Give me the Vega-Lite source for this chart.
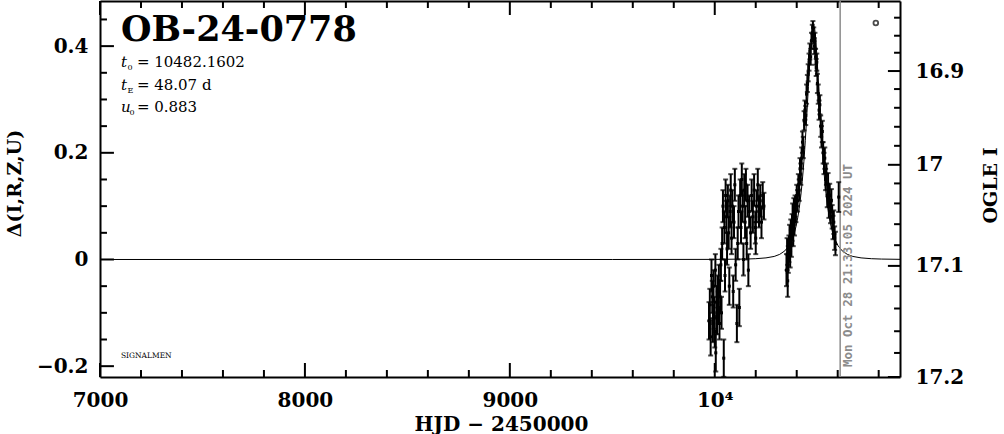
{
  "$schema": "https://vega.github.io/schema/vega-lite/v6.json",
  "width": 800,
  "height": 376,
  "autosize": "none",
  "padding": {"left": 100, "top": 1, "right": 104, "bottom": 57},
  "background": "white",
  "config": {"view": {"stroke": null}, "font": "DejaVu Serif"},
  "datasets": {
    "obs": [
      {"t":9972,"d":-0.115,"lo":-0.15,"hi":-0.08},{"t":9976,"d":-0.085,"lo":-0.115,"hi":-0.055},{"t":9980,"d":-0.145,"lo":-0.18,"hi":-0.11},
      {"t":9984,"d":-0.03,"lo":-0.06,"hi":0.0},{"t":9988,"d":-0.07,"lo":-0.10,"hi":-0.04},{"t":9991,"d":-0.12,"lo":-0.155,"hi":-0.085},
      {"t":9994,"d":-0.05,"lo":-0.08,"hi":-0.02},{"t":9997,"d":-0.10,"lo":-0.13,"hi":-0.07},{"t":10000,"d":-0.135,"lo":-0.165,"hi":-0.105},
      {"t":10003,"d":-0.02,"lo":-0.05,"hi":0.01},{"t":10005,"d":-0.175,"lo":-0.21,"hi":-0.14},{"t":10008,"d":-0.08,"lo":-0.11,"hi":-0.05},
      {"t":10011,"d":-0.11,"lo":-0.14,"hi":-0.08},{"t":10014,"d":-0.06,"lo":-0.09,"hi":-0.03},{"t":10017,"d":-0.09,"lo":-0.12,"hi":-0.06},
      {"t":10020,"d":-0.04,"lo":-0.07,"hi":-0.01},{"t":10023,"d":-0.12,"lo":-0.15,"hi":-0.09},{"t":10026,"d":-0.07,"lo":-0.10,"hi":-0.04},
      {"t":10030,"d":-0.01,"lo":-0.04,"hi":0.02},{"t":10033,"d":-0.10,"lo":-0.13,"hi":-0.07},{"t":10036,"d":0.03,"lo":0.0,"hi":0.06},
      {"t":10040,"d":0.10,"lo":0.07,"hi":0.13},{"t":10044,"d":-0.185,"lo":-0.22,"hi":-0.15},{"t":10047,"d":0.06,"lo":0.03,"hi":0.09},
      {"t":10050,"d":-0.03,"lo":-0.06,"hi":0.0},{"t":10053,"d":0.12,"lo":0.09,"hi":0.15},{"t":10057,"d":0.08,"lo":0.05,"hi":0.11},
      {"t":10060,"d":0.02,"lo":-0.01,"hi":0.05},{"t":10064,"d":0.11,"lo":0.08,"hi":0.14},{"t":10068,"d":0.05,"lo":0.02,"hi":0.08},
      {"t":10071,"d":-0.05,"lo":-0.085,"hi":-0.015},{"t":10075,"d":0.09,"lo":0.06,"hi":0.12},{"t":10078,"d":0.13,"lo":0.10,"hi":0.16},
      {"t":10082,"d":0.04,"lo":0.01,"hi":0.07},{"t":10086,"d":0.10,"lo":0.07,"hi":0.13},{"t":10090,"d":-0.06,"lo":-0.09,"hi":-0.03},
      {"t":10094,"d":0.07,"lo":0.04,"hi":0.10},{"t":10098,"d":0.14,"lo":0.11,"hi":0.17},{"t":10102,"d":-0.01,"lo":-0.04,"hi":0.02},
      {"t":10108,"d":-0.12,"lo":-0.155,"hi":-0.085},{"t":10112,"d":0.03,"lo":0.0,"hi":0.06},{"t":10116,"d":0.09,"lo":0.06,"hi":0.12},
      {"t":10120,"d":-0.09,"lo":-0.125,"hi":-0.055},{"t":10124,"d":0.12,"lo":0.09,"hi":0.15},{"t":10128,"d":0.06,"lo":0.03,"hi":0.09},
      {"t":10132,"d":0.15,"lo":0.12,"hi":0.18},{"t":10136,"d":0.10,"lo":0.07,"hi":0.13},{"t":10140,"d":0.00,"lo":-0.03,"hi":0.03},
      {"t":10144,"d":0.13,"lo":0.10,"hi":0.16},{"t":10148,"d":0.07,"lo":0.04,"hi":0.10},{"t":10152,"d":0.14,"lo":0.11,"hi":0.17},
      {"t":10156,"d":0.03,"lo":0.0,"hi":0.06},{"t":10160,"d":0.11,"lo":0.08,"hi":0.14},{"t":10164,"d":-0.02,"lo":-0.05,"hi":0.01},
      {"t":10168,"d":0.09,"lo":0.06,"hi":0.12},{"t":10175,"d":0.05,"lo":0.02,"hi":0.08},{"t":10180,"d":0.12,"lo":0.09,"hi":0.15},
      {"t":10186,"d":0.08,"lo":0.05,"hi":0.11},{"t":10192,"d":0.13,"lo":0.10,"hi":0.16},{"t":10198,"d":0.06,"lo":0.03,"hi":0.09},
      {"t":10200,"d":0.04,"lo":0.01,"hi":0.07},{"t":10204,"d":0.10,"lo":0.07,"hi":0.13},{"t":10210,"d":0.14,"lo":0.11,"hi":0.17},
      {"t":10216,"d":0.09,"lo":0.06,"hi":0.12},{"t":10222,"d":0.11,"lo":0.08,"hi":0.14},{"t":10228,"d":0.07,"lo":0.04,"hi":0.10},
      {"t":10234,"d":0.12,"lo":0.095,"hi":0.145},{"t":10240,"d":0.10,"lo":0.075,"hi":0.125},
      {"t":10350,"d":-0.02,"lo":-0.05,"hi":0.01},{"t":10353,"d":0.01,"lo":-0.02,"hi":0.04},{"t":10356,"d":-0.04,"lo":-0.07,"hi":-0.01},
      {"t":10359,"d":0.00,"lo":-0.025,"hi":0.025},{"t":10362,"d":0.02,"lo":-0.005,"hi":0.045},{"t":10365,"d":0.04,"lo":0.015,"hi":0.065},
      {"t":10368,"d":0.01,"lo":-0.015,"hi":0.035},{"t":10371,"d":0.05,"lo":0.025,"hi":0.075},{"t":10374,"d":0.03,"lo":0.005,"hi":0.055},
      {"t":10377,"d":0.06,"lo":0.035,"hi":0.085},{"t":10380,"d":0.08,"lo":0.055,"hi":0.105},{"t":10383,"d":0.05,"lo":0.025,"hi":0.075},
      {"t":10386,"d":0.09,"lo":0.065,"hi":0.115},{"t":10389,"d":0.07,"lo":0.045,"hi":0.095},{"t":10392,"d":0.10,"lo":0.08,"hi":0.12},
      {"t":10396,"d":0.09,"lo":0.07,"hi":0.11},{"t":10400,"d":0.12,"lo":0.10,"hi":0.14},{"t":10404,"d":0.11,"lo":0.09,"hi":0.13},
      {"t":10408,"d":0.14,"lo":0.12,"hi":0.16},{"t":10412,"d":0.13,"lo":0.11,"hi":0.15},{"t":10416,"d":0.17,"lo":0.15,"hi":0.19},
      {"t":10420,"d":0.16,"lo":0.14,"hi":0.18},{"t":10424,"d":0.19,"lo":0.17,"hi":0.21},{"t":10428,"d":0.22,"lo":0.20,"hi":0.24},
      {"t":10432,"d":0.21,"lo":0.19,"hi":0.23},{"t":10436,"d":0.26,"lo":0.242,"hi":0.278},{"t":10440,"d":0.28,"lo":0.262,"hi":0.298},
      {"t":10444,"d":0.27,"lo":0.252,"hi":0.288},{"t":10448,"d":0.31,"lo":0.292,"hi":0.328},{"t":10452,"d":0.33,"lo":0.314,"hi":0.346},
      {"t":10456,"d":0.35,"lo":0.334,"hi":0.366},{"t":10460,"d":0.37,"lo":0.354,"hi":0.386},{"t":10464,"d":0.39,"lo":0.375,"hi":0.405},
      {"t":10468,"d":0.38,"lo":0.365,"hi":0.395},{"t":10472,"d":0.41,"lo":0.395,"hi":0.425},{"t":10476,"d":0.425,"lo":0.41,"hi":0.44},
      {"t":10479,"d":0.435,"lo":0.423,"hi":0.447},{"t":10483,"d":0.42,"lo":0.405,"hi":0.435},{"t":10486,"d":0.40,"lo":0.385,"hi":0.415},
      {"t":10489,"d":0.41,"lo":0.395,"hi":0.425},{"t":10492,"d":0.38,"lo":0.365,"hi":0.395},{"t":10495,"d":0.36,"lo":0.344,"hi":0.376},
      {"t":10498,"d":0.37,"lo":0.354,"hi":0.386},{"t":10501,"d":0.33,"lo":0.312,"hi":0.348},{"t":10505,"d":0.31,"lo":0.292,"hi":0.328},
      {"t":10509,"d":0.28,"lo":0.262,"hi":0.298},{"t":10513,"d":0.29,"lo":0.272,"hi":0.308},{"t":10517,"d":0.25,"lo":0.23,"hi":0.27},
      {"t":10521,"d":0.23,"lo":0.21,"hi":0.25},{"t":10525,"d":0.24,"lo":0.22,"hi":0.26},{"t":10529,"d":0.20,"lo":0.18,"hi":0.22},
      {"t":10533,"d":0.18,"lo":0.16,"hi":0.20},{"t":10537,"d":0.19,"lo":0.17,"hi":0.21},{"t":10541,"d":0.15,"lo":0.13,"hi":0.17},
      {"t":10545,"d":0.16,"lo":0.14,"hi":0.18},{"t":10549,"d":0.12,"lo":0.098,"hi":0.142},{"t":10553,"d":0.14,"lo":0.118,"hi":0.162},
      {"t":10557,"d":0.10,"lo":0.078,"hi":0.122},{"t":10561,"d":0.12,"lo":0.098,"hi":0.142},{"t":10565,"d":0.09,"lo":0.068,"hi":0.112},
      {"t":10569,"d":0.11,"lo":0.088,"hi":0.132},{"t":10573,"d":0.08,"lo":0.058,"hi":0.102},{"t":10577,"d":0.06,"lo":0.038,"hi":0.082},
      {"t":10581,"d":0.07,"lo":0.048,"hi":0.092},{"t":10585,"d":0.04,"lo":0.018,"hi":0.062},{"t":10589,"d":0.03,"lo":0.008,"hi":0.052},
      {"t":10605,"d":0.117,"lo":0.089,"hi":0.145}
    ],
    "model": [
      {"t":7000,"m":0},{"t":9500,"m":0},{"t":10000,"m":0.0002},{"t":10150,"m":0.0008},{"t":10200,"m":0.0015},
      {"t":10250,"m":0.003},{"t":10290,"m":0.0057},{"t":10317,"m":0.0096},{"t":10342,"m":0.0162},{"t":10362,"m":0.0256},
      {"t":10382,"m":0.0421},{"t":10390,"m":0.052},{"t":10397,"m":0.0628},{"t":10405,"m":0.0783},{"t":10412,"m":0.0954},
      {"t":10420,"m":0.1199},{"t":10427,"m":0.1465},{"t":10435,"m":0.1839},{"t":10442,"m":0.2234},{"t":10450,"m":0.2752},
      {"t":10457,"m":0.3245},{"t":10464,"m":0.3725},{"t":10470,"m":0.4076},{"t":10476,"m":0.4314},{"t":10482,"m":0.4399},
      {"t":10488,"m":0.4314},{"t":10494,"m":0.4076},{"t":10500,"m":0.3725},{"t":10507,"m":0.3245},{"t":10514,"m":0.2752},
      {"t":10522,"m":0.2234},{"t":10529,"m":0.1839},{"t":10537,"m":0.1465},{"t":10544,"m":0.1199},{"t":10552,"m":0.0954},
      {"t":10559,"m":0.0783},{"t":10567,"m":0.0628},{"t":10574,"m":0.052},{"t":10582,"m":0.0421},{"t":10602,"m":0.0256},
      {"t":10622,"m":0.0162},{"t":10647,"m":0.0096},{"t":10674,"m":0.0057},{"t":10714,"m":0.003},{"t":10764,"m":0.0015},
      {"t":10814,"m":0.0008},{"t":10904,"m":0.0003}
    ],
    "xticks": [
      {"v":7000,"kind":"major"},{"v":7200,"kind":"minor"},{"v":7400,"kind":"minor"},{"v":7600,"kind":"minor"},{"v":7800,"kind":"minor"},
      {"v":8000,"kind":"major"},{"v":8200,"kind":"minor"},{"v":8400,"kind":"minor"},{"v":8600,"kind":"minor"},{"v":8800,"kind":"minor"},
      {"v":9000,"kind":"major"},{"v":9200,"kind":"minor"},{"v":9400,"kind":"minor"},{"v":9600,"kind":"minor"},{"v":9800,"kind":"minor"},
      {"v":10000,"kind":"major"},{"v":10200,"kind":"minor"},{"v":10400,"kind":"minor"},{"v":10600,"kind":"minor"},{"v":10800,"kind":"minor"}
    ],
    "lticks": [
      {"v":-0.2,"kind":"major"},{"v":-0.15,"kind":"minor"},{"v":-0.1,"kind":"minor"},{"v":-0.05,"kind":"minor"},
      {"v":0,"kind":"major"},{"v":0.05,"kind":"minor"},{"v":0.1,"kind":"minor"},{"v":0.15,"kind":"minor"},
      {"v":0.2,"kind":"major"},{"v":0.25,"kind":"minor"},{"v":0.3,"kind":"minor"},{"v":0.35,"kind":"minor"},
      {"v":0.4,"kind":"major"},{"v":0.45,"kind":"minor"}
    ],
    "rticks": [
      {"v":0.4533,"kind":"minor"},{"v":0.4195,"kind":"minor"},{"v":0.3876,"kind":"minor"},{"v":0.3533,"kind":"major"},
      {"v":0.3195,"kind":"minor"},{"v":0.2844,"kind":"minor"},{"v":0.2488,"kind":"minor"},{"v":0.2131,"kind":"minor"},
      {"v":0.1775,"kind":"major"},{"v":0.1426,"kind":"minor"},{"v":0.1051,"kind":"minor"},{"v":0.0662,"kind":"minor"},
      {"v":0.0268,"kind":"minor"},{"v":-0.012,"kind":"major"},{"v":-0.0501,"kind":"minor"},{"v":-0.0919,"kind":"minor"},
      {"v":-0.1345,"kind":"minor"},{"v":-0.1752,"kind":"minor"},{"v":-0.2203,"kind":"major"}
    ]
  },
  "layer": [
    {
      "data": {"name": "model"},
      "mark": {"type": "line", "color": "black", "strokeWidth": 1},
      "encoding": {
        "x": {"field": "t", "type": "quantitative", "scale": {"domain": [7000, 10904], "nice": false, "zero": false},
          "axis": {"orient": "bottom", "values": [7000,8000,9000,10000],
            "ticks": false, "domainColor": "black", "domainWidth": 2, "grid": false,
            "labelExpr": "datum.value === 10000 ? '10⁴' : format(datum.value, 'd')",
            "labelFont": "DejaVu Serif", "labelFontWeight": "bold", "labelFontSize": 20, "labelColor": "black",
            "labelPadding": 13, "labelFlush": false, "labelOverlap": false,
            "title": "HJD − 2450000", "titleFont": "DejaVu Serif", "titleFontWeight": "bold", "titleFontSize": 20, "titleColor": "black",
            "titleX": 401, "titleY": 53, "titleAlign": "center", "titleBaseline": "alphabetic"}},
        "y": {"field": "m", "type": "quantitative", "scale": {"domain": [-0.2203, 0.4846], "nice": false, "zero": false},
          "axis": {"orient": "left", "values": [-0.2, 0, 0.2, 0.4],
            "ticks": false, "domainColor": "black", "domainWidth": 2, "grid": false,
            "labelExpr": "abs(datum.value-0.4)<1e-6 ? '0.4' : abs(datum.value-0.2)<1e-6 ? '0.2' : abs(datum.value)<1e-6 ? '0' : '−0.2'",
            "labelFont": "DejaVu Serif", "labelFontWeight": "bold", "labelFontSize": 20, "labelColor": "black",
            "labelPadding": 12, "labelFlush": false, "labelOverlap": false,
            "title": "Δ(I,R,Z,U)", "titleFont": "DejaVu Serif", "titleFontWeight": "bold", "titleFontSize": 19, "titleColor": "black",
            "titleX": -86, "titleY": 182, "titleAngle": 270, "titleAlign": "center", "titleBaseline": "middle"}}
      }
    },
    {
      "data": {"values": [{"t": 10786, "y": 0.4433}]},
      "mark": {"type": "point", "shape": "circle", "filled": false, "color": "black", "size": 22, "strokeWidth": 1.8},
      "encoding": {
        "x": {"field": "t", "type": "quantitative", "scale": {"domain": [7000, 10904], "nice": false, "zero": false},
          "axis": {"orient": "top", "values": [7000], "ticks": false, "labels": false, "domainColor": "black", "domainWidth": 2, "grid": false, "title": null}},
        "y": {"field": "y", "type": "quantitative", "scale": {"domain": [-0.2203, 0.4846], "nice": false, "zero": false},
          "axis": {"orient": "right", "values": [0.3533, 0.1775, -0.012, -0.2203],
            "ticks": false, "domainColor": "black", "domainWidth": 2, "grid": false,
            "labelExpr": "abs(datum.value-0.3533)<1e-4 ? '16.9' : abs(datum.value-0.1775)<1e-4 ? '17' : abs(datum.value+0.012)<1e-4 ? '17.1' : '17.2'",
            "labelFont": "DejaVu Serif", "labelFontWeight": "bold", "labelFontSize": 20, "labelColor": "black",
            "labelPadding": 15, "labelFlush": false, "labelOverlap": false,
            "title": "OGLE I", "titleFont": "DejaVu Serif", "titleFontWeight": "bold", "titleFontSize": 19, "titleColor": "black",
            "titleX": 90, "titleY": 184, "titleAngle": 270, "titleAlign": "center", "titleBaseline": "middle"}}
      }
    },
    {
      "data": {"values": [{"t": 10612}]},
      "mark": {"type": "rule", "color": "#8c8c8c", "strokeWidth": 1.5},
      "encoding": {
        "x": {"field": "t", "type": "quantitative", "axis": null, "scale": {"domain": [7000, 10904], "nice": false, "zero": false}}
      }
    },
    {
      "data": {"name": "obs"},
      "mark": {"type": "rule", "color": "black", "strokeWidth": 2},
      "encoding": {
        "x": {"field": "t", "type": "quantitative", "axis": null, "scale": {"domain": [7000, 10904], "nice": false, "zero": false}},
        "y": {"field": "lo", "type": "quantitative", "axis": null, "scale": {"domain": [-0.2203, 0.4846], "nice": false, "zero": false}},
        "y2": {"field": "hi"}
      }
    },
    {
      "data": {"name": "obs"},
      "mark": {"type": "tick", "orient": "horizontal", "color": "black", "thickness": 2, "size": 5},
      "encoding": {
        "x": {"field": "t", "type": "quantitative", "axis": null, "scale": {"domain": [7000, 10904], "nice": false, "zero": false}},
        "y": {"field": "lo", "type": "quantitative", "axis": null, "scale": {"domain": [-0.2203, 0.4846], "nice": false, "zero": false}}
      }
    },
    {
      "data": {"name": "obs"},
      "mark": {"type": "tick", "orient": "horizontal", "color": "black", "thickness": 2, "size": 5},
      "encoding": {
        "x": {"field": "t", "type": "quantitative", "axis": null, "scale": {"domain": [7000, 10904], "nice": false, "zero": false}},
        "y": {"field": "hi", "type": "quantitative", "axis": null, "scale": {"domain": [-0.2203, 0.4846], "nice": false, "zero": false}}
      }
    },
    {
      "data": {"name": "obs"},
      "mark": {"type": "point", "shape": "square", "filled": true, "color": "black", "size": 9, "opacity": 1},
      "encoding": {
        "x": {"field": "t", "type": "quantitative", "axis": null, "scale": {"domain": [7000, 10904], "nice": false, "zero": false}},
        "y": {"field": "d", "type": "quantitative", "axis": null, "scale": {"domain": [-0.2203, 0.4846], "nice": false, "zero": false}}
      }
    },
    {
      "data": {"values": [{"t": 10649, "y": -0.2017, "label": "Mon Oct 28 21:33:05 2024 UT"}]},
      "mark": {"type": "text", "font": "DejaVu Sans Mono", "fontWeight": "bold", "fontSize": 12.5, "color": "#8c8c8c", "angle": 270, "align": "left", "baseline": "middle"},
      "encoding": {
        "x": {"field": "t", "type": "quantitative", "axis": null, "scale": {"domain": [7000, 10904], "nice": false, "zero": false}},
        "y": {"field": "y", "type": "quantitative", "axis": null, "scale": {"domain": [-0.2203, 0.4846], "nice": false, "zero": false}},
        "text": {"field": "label"}
      }
    },
    {
      "data": {"values": [{"t": 7102, "y": 0.4096, "label": "OB-24-0778"}]},
      "mark": {"type": "text", "font": "DejaVu Serif", "fontWeight": "bold", "fontSize": 35, "color": "black", "align": "left", "baseline": "alphabetic"},
      "encoding": {
        "x": {"field": "t", "type": "quantitative", "axis": null, "scale": {"domain": [7000, 10904], "nice": false, "zero": false}},
        "y": {"field": "y", "type": "quantitative", "axis": null, "scale": {"domain": [-0.2203, 0.4846], "nice": false, "zero": false}},
        "text": {"field": "label"}
      }
    },
    {
      "data": {"values": [{"t": 7102, "y": 0.3608, "label": "t"}, {"t": 7102, "y": 0.3176, "label": "t"}, {"t": 7102, "y": 0.2764, "label": "u"}]},
      "mark": {"type": "text", "font": "DejaVu Serif", "fontStyle": "italic", "fontSize": 15, "color": "black", "align": "left", "baseline": "alphabetic"},
      "encoding": {
        "x": {"field": "t", "type": "quantitative", "axis": null, "scale": {"domain": [7000, 10904], "nice": false, "zero": false}},
        "y": {"field": "y", "type": "quantitative", "axis": null, "scale": {"domain": [-0.2203, 0.4846], "nice": false, "zero": false}},
        "text": {"field": "label"}
      }
    },
    {
      "data": {"values": [{"t": 7134, "y": 0.3552, "label": "0"}, {"t": 7134, "y": 0.312, "label": "E"}, {"t": 7144, "y": 0.2707, "label": "0"}]},
      "mark": {"type": "text", "font": "DejaVu Serif", "fontSize": 8, "color": "black", "align": "left", "baseline": "alphabetic"},
      "encoding": {
        "x": {"field": "t", "type": "quantitative", "axis": null, "scale": {"domain": [7000, 10904], "nice": false, "zero": false}},
        "y": {"field": "y", "type": "quantitative", "axis": null, "scale": {"domain": [-0.2203, 0.4846], "nice": false, "zero": false}},
        "text": {"field": "label"}
      }
    },
    {
      "data": {"values": [{"t": 7180, "y": 0.3608, "label": "=  10482.1602"}, {"t": 7180, "y": 0.3176, "label": "=  48.07  d"}, {"t": 7180, "y": 0.2764, "label": "=  0.883"}]},
      "mark": {"type": "text", "font": "DejaVu Serif", "fontSize": 15, "color": "black", "align": "left", "baseline": "alphabetic"},
      "encoding": {
        "x": {"field": "t", "type": "quantitative", "axis": null, "scale": {"domain": [7000, 10904], "nice": false, "zero": false}},
        "y": {"field": "y", "type": "quantitative", "axis": null, "scale": {"domain": [-0.2203, 0.4846], "nice": false, "zero": false}},
        "text": {"field": "label"}
      }
    },
    {
      "data": {"values": [{"t": 7102, "y": -0.185, "label": "SIGNALMEN"}]},
      "mark": {"type": "text", "font": "DejaVu Serif", "fontSize": 7.5, "color": "black", "align": "left", "baseline": "alphabetic"},
      "encoding": {
        "x": {"field": "t", "type": "quantitative", "axis": null, "scale": {"domain": [7000, 10904], "nice": false, "zero": false}},
        "y": {"field": "y", "type": "quantitative", "axis": null, "scale": {"domain": [-0.2203, 0.4846], "nice": false, "zero": false}},
        "text": {"field": "label"}
      }
    },
    {
      "data": {"name": "xticks"},
      "transform": [{"filter": "datum.kind === 'major'"}],
      "mark": {"type": "rule", "strokeWidth": 2, "color": "black"},
      "encoding": {
        "x": {"field": "v", "type": "quantitative", "axis": null, "scale": {"domain": [7000, 10904], "nice": false, "zero": false}},
        "y": {"datum": -0.2203, "type": "quantitative", "axis": null, "scale": {"domain": [-0.2203, 0.4846], "nice": false, "zero": false}},
        "y2": {"datum": -0.194}
      }
    },
    {
      "data": {"name": "xticks"},
      "transform": [{"filter": "datum.kind === 'minor'"}],
      "mark": {"type": "rule", "strokeWidth": 2, "color": "black"},
      "encoding": {
        "x": {"field": "v", "type": "quantitative", "axis": null, "scale": {"domain": [7000, 10904], "nice": false, "zero": false}},
        "y": {"datum": -0.2203, "type": "quantitative", "axis": null, "scale": {"domain": [-0.2203, 0.4846], "nice": false, "zero": false}},
        "y2": {"datum": -0.2072}
      }
    },
    {
      "data": {"name": "xticks"},
      "transform": [{"filter": "datum.kind === 'major'"}],
      "mark": {"type": "rule", "strokeWidth": 2, "color": "black"},
      "encoding": {
        "x": {"field": "v", "type": "quantitative", "axis": null, "scale": {"domain": [7000, 10904], "nice": false, "zero": false}},
        "y": {"datum": 0.4846, "type": "quantitative", "axis": null, "scale": {"domain": [-0.2203, 0.4846], "nice": false, "zero": false}},
        "y2": {"datum": 0.4583}
      }
    },
    {
      "data": {"name": "xticks"},
      "transform": [{"filter": "datum.kind === 'minor'"}],
      "mark": {"type": "rule", "strokeWidth": 2, "color": "black"},
      "encoding": {
        "x": {"field": "v", "type": "quantitative", "axis": null, "scale": {"domain": [7000, 10904], "nice": false, "zero": false}},
        "y": {"datum": 0.4846, "type": "quantitative", "axis": null, "scale": {"domain": [-0.2203, 0.4846], "nice": false, "zero": false}},
        "y2": {"datum": 0.4715}
      }
    },
    {
      "data": {"name": "lticks"},
      "transform": [{"filter": "datum.kind === 'major'"}],
      "mark": {"type": "rule", "strokeWidth": 2, "color": "black"},
      "encoding": {
        "y": {"field": "v", "type": "quantitative", "axis": null, "scale": {"domain": [-0.2203, 0.4846], "nice": false, "zero": false}},
        "x": {"datum": 7000, "type": "quantitative", "axis": null, "scale": {"domain": [7000, 10904], "nice": false, "zero": false}},
        "x2": {"datum": 7068}
      }
    },
    {
      "data": {"name": "lticks"},
      "transform": [{"filter": "datum.kind === 'minor'"}],
      "mark": {"type": "rule", "strokeWidth": 2, "color": "black"},
      "encoding": {
        "y": {"field": "v", "type": "quantitative", "axis": null, "scale": {"domain": [-0.2203, 0.4846], "nice": false, "zero": false}},
        "x": {"datum": 7000, "type": "quantitative", "axis": null, "scale": {"domain": [7000, 10904], "nice": false, "zero": false}},
        "x2": {"datum": 7034}
      }
    },
    {
      "data": {"name": "rticks"},
      "transform": [{"filter": "datum.kind === 'major'"}],
      "mark": {"type": "rule", "strokeWidth": 2, "color": "black"},
      "encoding": {
        "y": {"field": "v", "type": "quantitative", "axis": null, "scale": {"domain": [-0.2203, 0.4846], "nice": false, "zero": false}},
        "x": {"datum": 10904, "type": "quantitative", "axis": null, "scale": {"domain": [7000, 10904], "nice": false, "zero": false}},
        "x2": {"datum": 10845}
      }
    },
    {
      "data": {"name": "rticks"},
      "transform": [{"filter": "datum.kind === 'minor'"}],
      "mark": {"type": "rule", "strokeWidth": 2, "color": "black"},
      "encoding": {
        "y": {"field": "v", "type": "quantitative", "axis": null, "scale": {"domain": [-0.2203, 0.4846], "nice": false, "zero": false}},
        "x": {"datum": 10904, "type": "quantitative", "axis": null, "scale": {"domain": [7000, 10904], "nice": false, "zero": false}},
        "x2": {"datum": 10875}
      }
    }
  ],
  "resolve": {"axis": {"x": "independent", "y": "independent"}}
}
